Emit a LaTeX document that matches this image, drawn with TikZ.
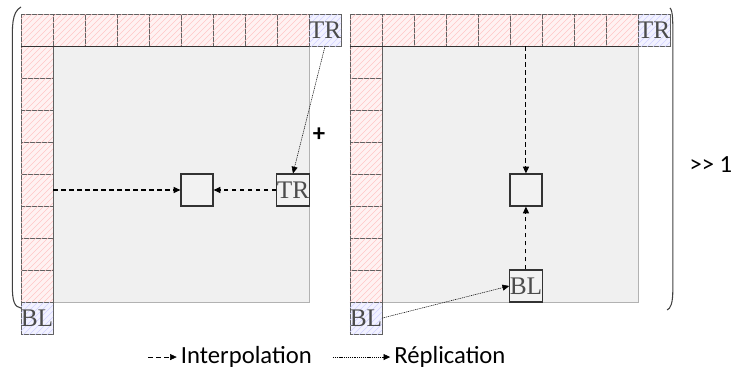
\documentclass[tikz,border=0pt]{standalone}
\usepackage{fontspec}
\setmainfont{Liberation Serif}
\newfontfamily\legendfont{Carlito}
\usetikzlibrary{arrows.meta,positioning,patterns}

\pgfdeclarepatternformonly{widehatch}{\pgfqpoint{-1pt}{-1pt}}{\pgfqpoint{5.5pt}{5.5pt}}{\pgfqpoint{4.5pt}{4.5pt}}%
{\pgfsetlinewidth{0.45pt}\pgfpathmoveto{\pgfqpoint{0pt}{0pt}}\pgfpathlineto{\pgfqpoint{4.51pt}{4.51pt}}\pgfusepath{stroke}}

\begin{document}
\begin{tikzpicture}[x=24pt,y=-24pt,
    base/.style={rectangle, draw=gray!75!black, minimum size=24pt, inner sep=0pt},
    cell/.style={base, fill=red!5, postaction={pattern=widehatch, pattern color=red!22}},
    corner/.style={base, fill=blue!5, postaction={pattern=widehatch, pattern color=blue!18}, text=gray!60!black, font=\fontsize{19}{19}\selectfont},
    area/.style={rectangle, draw=gray!60, fill=gray!12, minimum width=192pt, minimum height=192pt, inner sep=0pt},
    probe/.style={rectangle, draw=gray!40!black, fill=gray!10, line width=0.9pt, minimum size=24pt, inner sep=0pt, text=gray!60!black, font=\fontsize{19}{19}\selectfont},
    legend/.style={font=\legendfont\fontsize{18.5}{18.5}\selectfont, inner sep=1pt},
    interp/.style={-{Triangle[length=5pt,width=4.5pt]}, thick, dash pattern=on 3.5pt off 2.5pt},
    repl/.style={-{Triangle[length=5pt,width=4.5pt]}, dash pattern=on 0.8pt off 0.6pt}
]
    \useasboundingbox (-0.656,-0.4375) rectangle (22.25,11.5);

    % left panel
    \node[area] (Lbg) at (5,5) {};
    \foreach \i in {0,...,8} \node[cell] (Lt\i) at (\i+0.5,0.5) {};
    \foreach \j in {1,...,8} \node[cell] (Ll\j) at (0.5,\j+0.5) {};
    \node[corner] (Ltr) at (9.5,0.5) {TR};
    \node[corner] (Lbl) at (0.5,9.5) {BL};
    \draw[thick, black!80] (Lt0.south west) -- (Lt8.south east);
    \node[probe] (Lc) at (5.5,5.5) {};
    \node[probe] (Lr) at (8.5,5.5) {TR};

    \draw[interp] (Ll5.east) -- (Lc.west);
    \draw[interp] (Lr.west) -- (Lc.east);
    \draw[repl] (Ltr.south) -- (Lr.north);

    % right panel
    \begin{scope}[shift={(10.28,0)}]
        \node[area] (Rbg) at (5,5) {};
        \foreach \i in {0,...,8} \node[cell] (Rt\i) at (\i+0.5,0.5) {};
        \foreach \j in {1,...,8} \node[cell] (Rl\j) at (0.5,\j+0.5) {};
        \node[corner] (Rtr) at (9.5,0.5) {TR};
        \node[corner] (Rbl) at (0.5,9.5) {BL};
        \draw[thick, black!80] (Rt0.south west) -- (Rt8.south east);
        \node[probe] (Rc) at (5.5,5.5) {};
        \node[probe] (Rb) at (5.5,8.5) {BL};
    \end{scope}

    \draw[interp] (Rt5.south) -- (Rc.north);
    \draw[interp] (Rb.north) -- (Rc.south);
    \draw[repl] (Rbl.east) -- (Rb.west);

    % brackets and operators
    \draw[thick, black!75] (0,-0.22) .. controls (-0.3,-0.05) and (-0.27,0.4) .. (-0.27,1)
        -- (-0.27,8.5) .. controls (-0.27,9) and (-0.2,9.15) .. (0,9.19);
    \draw[thick, black!75] (20.28,-0.19) .. controls (20.38,-0.1) and (20.37,0.3) .. (20.37,0.8)
        -- (20.37,8.6) .. controls (20.37,9.05) and (20.3,9.2) .. (20.19,9.25);
    \node[legend, font=\legendfont\bfseries\fontsize{18.5}{18.5}\selectfont] (plus) at (9.31,3.78) {+};
    \node[legend] (shift) at (21.56,4.72) {>> 1};

    % legend
    \node[legend, anchor=west] (interp) at (4.95,10.72) {Interpolation};
    \coordinate (i0) at (3.97,10.72);
    \draw[interp, thin, shorten >=2pt] (i0) -- (interp.west);
    \node[legend, anchor=west] (repl) at (11.62,10.72) {Réplication};
    \coordinate (r0) at (9.75,10.72);
    \draw[repl, shorten >=2pt] (r0) -- (repl.west);
\end{tikzpicture}
\end{document}
